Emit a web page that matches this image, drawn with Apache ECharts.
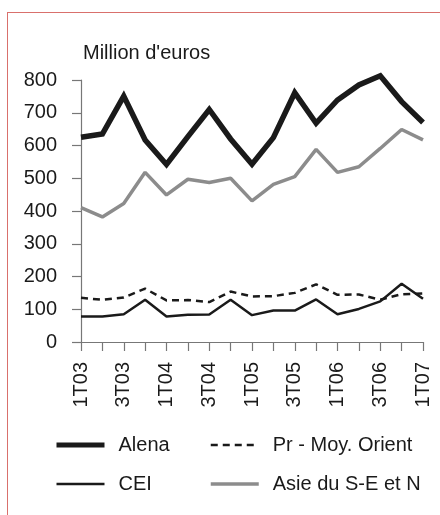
<!DOCTYPE html>
<html><head><meta charset="utf-8">
<script src="https://cdn.jsdelivr.net/npm/echarts@6/dist/echarts.min.js"></script>
<style>
html,body{margin:0;padding:0;background:#fff;overflow:hidden}
#frame{position:absolute;left:7px;top:12px;width:460px;height:540px;border-left:1.5px solid #d9706c;border-top:1.5px solid #d9706c;}
#c{position:absolute;left:0;top:0;width:440px;height:515px}
</style></head>
<body>
<div id="frame"></div>
<div id="c"></div>
<script>
const categories = ['1T03','2T03','3T03','4T03','1T04','2T04','3T04','4T04','1T05','2T05','3T05','4T05','1T06','2T06','3T06','4T06','1T07'];
const alena = [625,635,751,617,542,627,710,620,543,624,761,668,739,785,813,734,670];
const prMoyOrient = [135,129,136,163,127,128,122,154,139,140,150,176,144,145,129,146,148];
const cei = [78,78,85,129,78,83,84,129,82,96,96,130,85,101,124,178,132];
const asie = [410,382,423,518,449,497,487,500,431,481,505,588,518,535,591,649,617];
const yTicks = [0,100,200,300,400,500,600,700,800];

const chart = echarts.init(document.getElementById('c'), null, {renderer:'canvas'});
const font = 'Liberation Sans, Arial, sans-serif';
const txt = '#1a1a1a';
const legText = {fontSize:20,color:txt,fontFamily:font,padding:[0,0,0,9]};
chart.setOption({
  animation:false,
  textStyle:{fontFamily:font},
  graphic:[{type:'text',left:83,top:43,style:{text:"Million d'euros",font:'20px '+font,fill:txt}}],
  grid:{left:81,right:17,top:80,bottom:173,containLabel:false},
  xAxis:{type:'category',data:categories,boundaryGap:false,
    axisLine:{lineStyle:{color:'#777',width:1.2}},
    axisTick:{show:true,interval:0,length:9,lineStyle:{color:'#777',width:1.2}},
    axisLabel:{interval:1,rotate:90,fontSize:20,color:txt,margin:20,fontFamily:font},
    splitLine:{show:false}},
  yAxis:{type:'value',min:yTicks[0],max:yTicks[yTicks.length-1],interval:100,
    axisLine:{show:true,lineStyle:{color:'#777',width:1.2}},
    axisTick:{show:true,length:9,lineStyle:{color:'#777',width:1.2}},
    axisLabel:{fontSize:20,color:txt,margin:24,fontFamily:font},
    splitLine:{show:false}},
  legend:[
    {left:54,top:435,padding:0,orient:'vertical',itemGap:19,itemWidth:48,itemHeight:20,
      data:[
        {name:'Alena',itemStyle:{opacity:0},lineStyle:{width:5,color:txt}},
        {name:'CEI',itemStyle:{opacity:0},lineStyle:{width:2.5,color:txt}}],
      textStyle:legText},
    {left:209,top:435,padding:0,orient:'vertical',itemGap:19,itemWidth:48,itemHeight:20,
      data:[
        {name:'Pr - Moy. Orient',itemStyle:{opacity:0},lineStyle:{width:2.5,color:txt,type:[7,5]}},
        {name:'Asie du S-E et N',itemStyle:{opacity:0},lineStyle:{width:3.5,color:'#8c8c8c'}}],
      textStyle:legText}
  ],
  series:[
    {name:'Alena',type:'line',data:alena,symbol:'none',clip:false,lineStyle:{color:txt,width:5.5,join:'miter'},itemStyle:{color:txt}},
    {name:'Pr - Moy. Orient',type:'line',data:prMoyOrient,symbol:'none',clip:false,lineStyle:{color:txt,width:2.5,type:[7,5]},itemStyle:{color:txt}},
    {name:'CEI',type:'line',data:cei,symbol:'none',clip:false,lineStyle:{color:txt,width:2.5},itemStyle:{color:txt}},
    {name:'Asie du S-E et N',type:'line',data:asie,symbol:'none',clip:false,lineStyle:{color:'#8c8c8c',width:3.5},itemStyle:{color:'#8c8c8c'}}
  ]
});
</script>
</body></html>
